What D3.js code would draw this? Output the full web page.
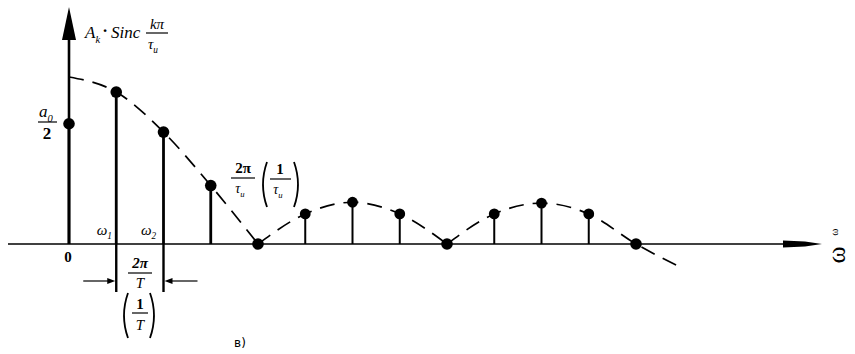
<!DOCTYPE html>
<html>
<head>
<meta charset="utf-8">
<script src="https://cdn.jsdelivr.net/npm/d3@7"></script>
<style>
  html, body { margin: 0; padding: 0; background: #fff; }
  svg { display: block; }
  text { font-family: "Liberation Serif", "DejaVu Serif", serif; fill: #000; }
</style>
</head>
<body>
<div id="chart"></div>
<script>
var width  = 855,
    height = 354;

// harmonic numbers and their line amplitudes (relative to envelope max)
var harmonics  = [0, 1, 2, 3, 4, 5, 6, 7, 8, 9, 10, 11, 12];
var amplitudes = [0.72, 0.91, 0.67, 0.35, 0, 0.18, 0.25, 0.18, 0, 0.18, 0.245, 0.18, 0];

// dashed envelope, split in lobes at its zeros
var lobe1K = [0, 1, 2, 3, 4],          lobe1V = [1.0, 0.91, 0.67, 0.35, 0];
var lobe2K = [4, 5, 6, 7, 8],          lobe2V = [0, 0.18, 0.25, 0.18, 0];
var lobe3K = [8, 9, 10, 11, 12, 12.95], lobe3V = [0, 0.18, 0.245, 0.18, 0, -0.14];

var svg = d3.select('#chart').append('svg')
    .attr('width', width)
    .attr('height', height);

var x = d3.scaleLinear().domain([0, 12]).range([69, 636]),
    y = d3.scaleLinear().domain([0, 1]).range([244, 77]);

var y0 = y(0);

// x axis with long thin arrow
svg.append('line')
    .attr('x1', 8).attr('x2', 790)
    .attr('y1', y0).attr('y2', y0)
    .style('stroke', '#000').style('stroke-width', 1.6);
svg.append('path')
    .attr('d', 'M783,' + (y0 - 3.5) + 'L805,' + (y0 - 2.5) + 'L822,' + y0 +
               'L805,' + (y0 + 2.5) + 'L783,' + (y0 + 3.5) + 'Z')
    .style('fill', '#000');

// y axis with filled arrow
svg.append('line')
    .attr('x1', x(0)).attr('x2', x(0))
    .attr('y1', 38).attr('y2', y0)
    .style('stroke', '#000').style('stroke-width', 2.6);
svg.append('path')
    .attr('d', 'M' + x(0) + ',7L' + (x(0) + 7) + ',40L' + (x(0) - 7) + ',40Z')
    .style('fill', '#000');

// envelope
var env = d3.line()
    .x(function(d) { return x(d[0]); })
    .y(function(d) { return y(d[1]); })
    .curve(d3.curveMonotoneX);

[[lobe1K, lobe1V], [lobe2K, lobe2V], [lobe3K, lobe3V]].forEach(function(l) {
    svg.append('path')
        .datum(d3.zip(l[0], l[1]))
        .attr('d', env)
        .style('fill', 'none')
        .style('stroke', '#000')
        .style('stroke-width', 1.7)
        .style('stroke-dasharray', '15,9');
});

// spectral lines
var lines = d3.zip(harmonics, amplitudes);
svg.selectAll('.stem')
    .data(lines.filter(function(d) { return d[1] > 0; }))
    .enter().append('line')
    .attr('class', 'stem')
    .attr('x1', function(d) { return x(d[0]); })
    .attr('x2', function(d) { return x(d[0]); })
    .attr('y1', y0)
    .attr('y2', function(d) { return y(d[1]); })
    .style('stroke', '#000')
    .style('stroke-width', function(d) { return d[0] < 4 ? 2.8 : 2; });

svg.selectAll('.dot')
    .data(lines)
    .enter().append('circle')
    .attr('class', 'dot')
    .attr('cx', function(d) { return x(d[0]); })
    .attr('cy', function(d) { return y(d[1]); })
    .attr('r', function(d) { return d[0] < 4 || d[1] === 0 ? 5.8 : 5.4; })
    .style('fill', '#000');

// period dimension (2π/T)
[1, 2].forEach(function(k) {
    svg.append('line')
        .attr('x1', x(k)).attr('x2', x(k))
        .attr('y1', y0).attr('y2', 292)
        .style('stroke', '#000').style('stroke-width', 2.4);
});
function arrow(xFrom, xTo, yy) {
    var dir = xTo > xFrom ? 1 : -1;
    svg.append('line')
        .attr('x1', xFrom).attr('x2', xTo - dir * 6)
        .attr('y1', yy).attr('y2', yy)
        .style('stroke', '#000').style('stroke-width', 1.2);
    svg.append('path')
        .attr('d', 'M' + xTo + ',' + yy + 'L' + (xTo - dir * 8) + ',' + (yy - 3) +
                   'L' + (xTo - dir * 8) + ',' + (yy + 3) + 'Z')
        .style('fill', '#000');
}
arrow(x(1) - 33, x(1) - 1, 281);
arrow(x(2) + 34, x(2) + 1, 281);

// helpers for math text
function txt(xx, yy, s, size, opts) {
    opts = opts || {};
    return svg.append('text')
        .attr('x', xx).attr('y', yy)
        .attr('text-anchor', opts.anchor || 'middle')
        .style('font-size', size + 'px')
        .style('font-style', opts.italic ? 'italic' : 'normal')
        .style('font-weight', opts.bold ? 'bold' : 'normal')
        .text(s);
}
function withSub(xx, yy, base, sub, size, anchor) {
    var t = svg.append('text')
        .attr('x', xx).attr('y', yy)
        .attr('text-anchor', anchor || 'middle')
        .style('font-size', size + 'px')
        .style('font-style', 'italic');
    t.append('tspan').text(base);
    t.append('tspan').attr('dy', size * 0.28).style('font-size', (size * 0.62) + 'px').text(sub);
    return t;
}
function hline(x1, x2, yy) {
    svg.append('line')
        .attr('x1', x1).attr('x2', x2).attr('y1', yy).attr('y2', yy)
        .style('stroke', '#000').style('stroke-width', 1.2);
}
function parens(xl, xr, top, bot) {
    var mid = (top + bot) / 2;
    svg.append('path')
        .attr('d', 'M' + (xl + 4) + ',' + top + 'Q' + (xl - 4) + ',' + mid + ' ' + (xl + 4) + ',' + bot +
                   'M' + (xr - 4) + ',' + top + 'Q' + (xr + 4) + ',' + mid + ' ' + (xr - 4) + ',' + bot)
        .style('fill', 'none').style('stroke', '#000').style('stroke-width', 1.8);
}

// y axis label: A_k · Sinc kπ/τ_и
withSub(85, 38, 'A', 'k', 17, 'start');
txt(105, 36, '·', 17, { bold: true });
txt(111, 38, 'Sinc', 17, { italic: true, anchor: 'start' });
txt(157, 29, 'kπ', 15, { italic: true });
hline(146, 168, 33);
withSub(153, 49, 'τ', 'и', 15, 'middle');

// a0/2
withSub(46, 117, 'a', '0', 17, 'middle');
hline(38, 57, 122);
txt(47, 139, '2', 17, { bold: true });

// 2π/τи (1/τи)
txt(243, 173, '2π', 15, { bold: true });
hline(231, 255, 178);
withSub(240, 193, 'τ', 'и', 14, 'middle');
parens(263, 298, 162, 207);
txt(280, 174, '1', 15, { bold: true });
hline(270, 291, 179);
withSub(278, 194, 'τ', 'и', 14, 'middle');

// ticks: 0, ω1, ω2
txt(x(0) - 1, 262, '0', 15, { bold: true });
withSub(x(1) - 12, 235, 'ω', '1', 15, 'middle');
withSub(x(2) - 15, 235, 'ω', '2', 15, 'middle');

// 2π/T (1/T)
txt(140, 268, '2π', 15, { italic: true, bold: true });
hline(128, 152, 273);
txt(140, 288, 'T', 15, { italic: true });
parens(124, 154, 293, 338);
txt(140, 309, '1', 15, { bold: true });
hline(132, 148, 313);
txt(140, 330, 'T', 15, { italic: true });

// ω at the end of x axis (rotated, as in the scan)
svg.append('text')
    .attr('transform', 'translate(838,232) rotate(-90)')
    .attr('text-anchor', 'middle')
    .style('font-size', '11px')
    .text('ω');
svg.append('text')
    .attr('transform', 'translate(845,255) rotate(-90)')
    .attr('text-anchor', 'middle')
    .style('font-size', '26px')
    .text('ω');

// figure label
svg.append('text')
    .attr('x', 240).attr('y', 347)
    .attr('text-anchor', 'middle')
    .style('font-family', 'DejaVu Sans, sans-serif')
    .style('font-size', '12px')
    .text('в)');
</script>
</body>
</html>
